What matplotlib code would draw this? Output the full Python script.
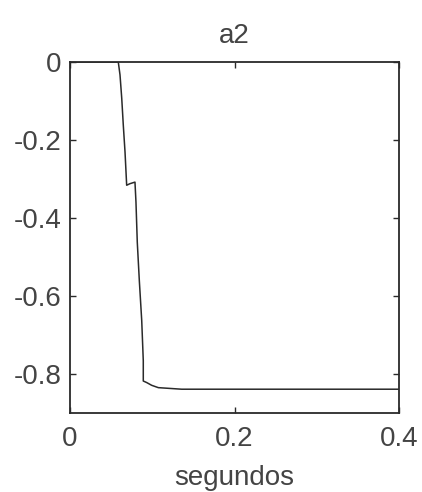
import matplotlib
matplotlib.use("Agg")
import matplotlib.pyplot as plt

t = [0.0, 0.0587, 0.0608, 0.0629, 0.0648, 0.0669, 0.0689, 0.0729, 0.0790,
     0.0802, 0.0818, 0.0843, 0.0872, 0.0891, 0.0891, 0.0933, 0.0993, 0.1074,
     0.1358, 0.4]
a2 = [0.0, 0.0, -0.033, -0.093, -0.162, -0.231, -0.316, -0.312, -0.308,
      -0.359, -0.462, -0.561, -0.663, -0.766, -0.818, -0.822, -0.829, -0.835,
      -0.839, -0.839]
xticks = [0, 0.2, 0.4]
xticklabels = ["0", "0.2", "0.4"]
yticks = [0, -0.2, -0.4, -0.6, -0.8]
yticklabels = ["0", "-0.2", "-0.4", "-0.6", "-0.8"]

plt.rcParams['font.family'] = ['Liberation Sans', 'DejaVu Sans']
tc = '#444444'
fig = plt.figure(figsize=(4.22, 4.92), dpi=100)
ax = fig.add_axes([70/422, 1-413/492, 329/422, 351/492])
ax.plot(t, a2, color='#2a2a2a', linewidth=1.1)
ax.set_xlim(0, 0.4)
ax.set_ylim(-0.9, 0)
ax.set_xticks(xticks)
ax.set_xticklabels(xticklabels)
ax.set_yticks(yticks)
ax.set_yticklabels(yticklabels)
ax.tick_params(direction='in', length=4, width=1, colors='#2a2a2a',
               labelcolor=tc, labelsize=20, top=True, right=True)
ax.tick_params(axis='x', pad=9)
ax.tick_params(axis='y', pad=6)
for s in ax.spines.values():
    s.set_linewidth(1.3)
    s.set_color('#2a2a2a')
ax.set_title('a2', fontsize=20, color=tc, pad=14)
ax.set_xlabel('segundos', fontsize=20, color=tc, labelpad=10)
fig.savefig('out.png', dpi=100)
